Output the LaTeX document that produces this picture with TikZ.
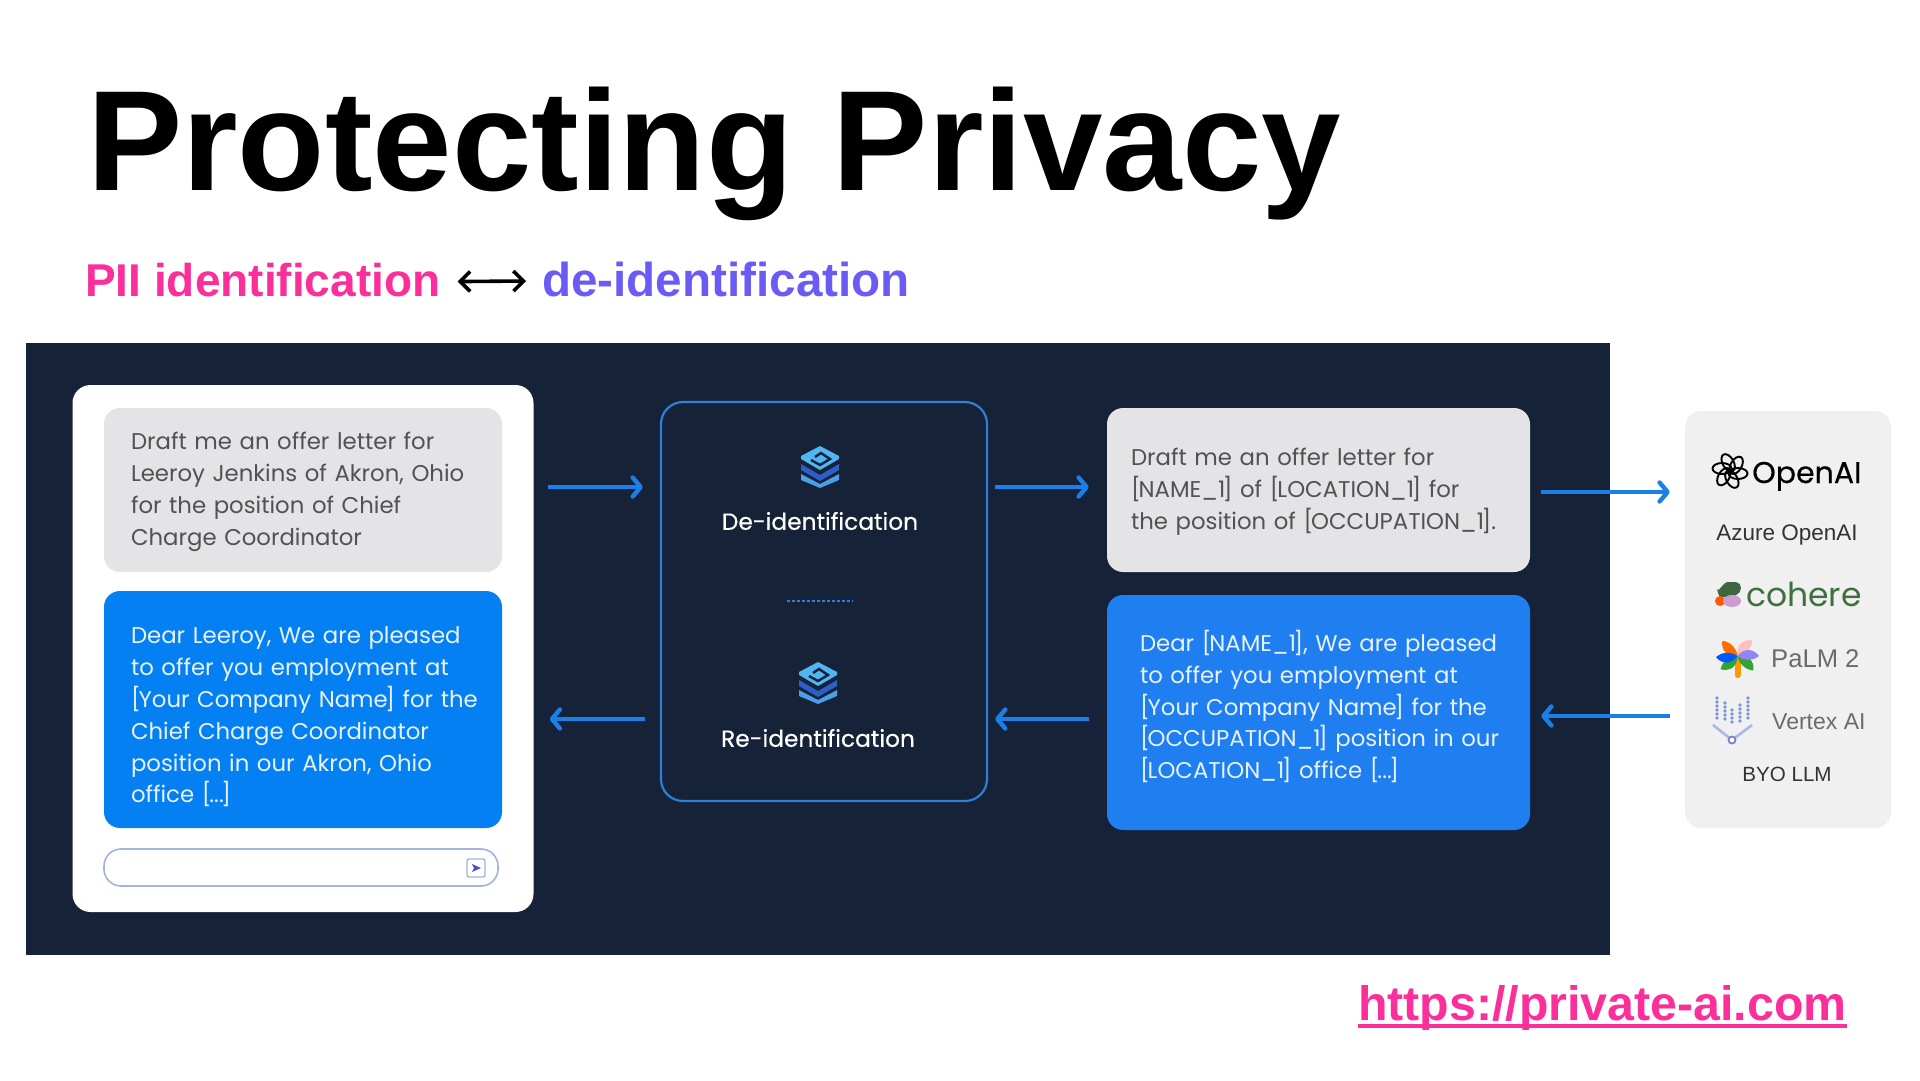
\documentclass[tikz,border=0pt]{standalone}
\usepackage{fontspec}
\setmainfont{Liberation Sans}
\newfontfamily\bubblefont{Poppins}
\newfontfamily\stagefont[FakeBold=0.35]{Poppins}
\usetikzlibrary{arrows.meta,calc,positioning}
\definecolor{panel}{HTML}{152238}
\definecolor{flow}{HTML}{1A7FE6}
\definecolor{chatblue}{HTML}{0480F2}
\definecolor{chatblueb}{HTML}{1F7FF0}
\definecolor{chatgray}{HTML}{E4E4E6}
\definecolor{hotpink}{HTML}{FB2F9A}
\definecolor{violet}{HTML}{6B5BF5}
\definecolor{framed}{HTML}{2E7FD8}
\definecolor{inputline}{HTML}{A3B3DE}
\definecolor{stacklow}{HTML}{4A9FE8}
\definecolor{stackmid}{HTML}{2D5FCB}
\definecolor{stacktop}{HTML}{52B4F0}
\definecolor{vertexdot}{HTML}{7E95D8}
\definecolor{vertexline}{HTML}{A9B8EE}
\newcommand{\fs}[2]{\fontsize{#1}{#2}\selectfont}
\newcommand{\lb}{{[}\kern-2pt}
\newcommand{\rb}{\kern-2.5pt{]}}
\tikzset{stackicon/.pic={
  \fill[fill=stacklow] (-19,7)--(0,17)--(19,7)--(19,13)--(0,21)--(-19,13)--cycle;
  \fill[fill=stackmid] (-19,-3)--(0,8)--(19,-3)--(19,3)--(0,14)--(-19,3)--cycle;
  \fill[fill=stacktop] (0,-21)--(19,-11)--(19,-8)--(0,3)--(-19,-8)--(-19,-11)--cycle;
  \draw[panel,line width=2.4pt] (-9,-7)--(0,-2)--(10,-8)--(1,-14)--(-5,-10);
}}
\begin{document}
\begin{tikzpicture}[x=1pt,y=-1pt,
  bubble/.style={rounded corners=16pt,align=left,inner ysep=0pt,font=\bubblefont\fs{22.8}{31.8}},
  query/.style={bubble,fill=chatgray,text=black!68},
  reply/.style={bubble,fill=chatblue,text=white!90!chatblue},
  nudge/.style={execute at begin node={\rule{0pt}{#1}}},
  stage/.style={text=white,font=\stagefont\fs{23.3}{28}},
  vendor/.style={inner sep=0pt,text=black!80,font=\fs{22.5}{26}},
  arr/.style={-{Straight Barb[length=8pt,width=19pt,round]},line width=4.4pt,flow}]
  \useasboundingbox (0,0) rectangle (1920,1080);
  \node[anchor=base west,inner sep=0pt,font=\bfseries\fs{142.8}{150}] (title) at (87,190) {Protecting Privacy};
  \node[anchor=base west,inner sep=0pt,text=hotpink,font=\bfseries\fs{46}{50}] (pii) at (85,296) {PII identification};
  \node[anchor=base west,inner sep=0pt,text=violet,font=\bfseries\fs{47.6}{50}] (deid) at (542,296) {de-identification};
  \draw[{Straight Barb[length=10pt,width=20pt]}-{Straight Barb[length=10pt,width=20pt]},line width=3.6pt] ([xshift=17pt,yshift=-2pt]pii.east) -- ([xshift=-16pt,yshift=-2pt]deid.west);

  \fill[panel] (26,343) rectangle (1610,955);
  \node[fill=white,rounded corners=18pt,minimum width=461pt,minimum height=527pt,inner sep=0pt] (card) at (303,648.5) {};
  \node[query,nudge=21pt,minimum height=164pt,text width=344pt,inner xsep=27pt] (askin) at (303,490) {Draft me an offer letter for\\Leeroy Jenkins of Akron, Ohio\\for the position of Chief\\Charge Coordinator};
  \node[reply,nudge=32pt,minimum height=237pt,text width=344pt,inner xsep=27pt] (answer) at (303,709.5) {Dear Leeroy, We are pleased\\to offer you employment at\\\mbox{\lb Your Company Name\rb{} for the}\\Chief Charge Coordinator\\position in our Akron, Ohio\\office \lb...\rb};
  \node[draw=inputline,line width=1.6pt,fill=white,rounded corners=17pt,minimum width=394pt,minimum height=37pt,inner sep=0pt] (input) at (301,867.5) {};
  \node[draw=inputline,line width=1.4pt,rounded corners=2pt,minimum size=18pt,inner sep=0pt] (send) at (476,868) {};
  \fill[violet!80!black] (472,864)--(481,868)--(472,872)--(474,868)--cycle;

  \node[draw=framed,line width=2.2pt,rounded corners=22pt,minimum width=326pt,minimum height=399pt,inner sep=0pt] (mid) at (824,601.5) {};
  \pic at (820,467) {stackicon};
  \node[stage] (deident) at (820,521) {De-identification};
  \draw[framed,line width=1.4pt,dash pattern=on 3pt off 2pt] (787,601) -- (853,601);
  \pic at (818,683) {stackicon};
  \node[stage] (reident) at (818,738) {Re-identification};

  \node[query,nudge=21pt,minimum height=164pt,text width=375pt,inner xsep=24pt] (masked) at (1318.5,490) {Draft me an offer letter for\\\lb NAME\_1\rb{} of \lb LOCATION\_1\rb{} for\\\mbox{the position of \lb OCCUPATION\_1\rb.}};
  \node[reply,fill=chatblueb,minimum height=235pt,text width=357pt,inner xsep=33pt] (maskout) at (1318.5,712.5) {\mbox{Dear \lb NAME\_1\rb, We are pleased}\\to offer you employment at\\\lb Your Company Name\rb{} for the\\\mbox{\lb OCCUPATION\_1\rb{} position in our}\\\lb LOCATION\_1\rb{} office \lb...\rb\rule[-16pt]{0pt}{1pt}};

  \node[fill=black!6,rounded corners=16pt,minimum width=206pt,minimum height=417pt,inner sep=0pt] (models) at (1788,619.5) {};
  \node[vendor,anchor=base west,font=\stagefont\fs{30}{34},text=black] (openai) at (1752,483) {OpenAI};
  \foreach \a in {0,60,...,300}
    \draw[black,line width=1.9pt,rotate around={\a:(1730,471)}] (1738,473.5) ellipse (9.5pt and 5.5pt);
  \node[vendor] (azure) at (1787,535) {Azure OpenAI};
  \node[vendor,anchor=base west,text=green!25!black!75,font=\bubblefont\fs{33}{36}] (cohere) at (1746,606) {cohere};
  \fill[green!20!black!75] (1717,589) to[out=-80,in=180] (1728,582) -- (1736,582) to[out=0,in=90] (1741,588) to[out=-90,in=0] (1726,597) -- (1721,597) to[out=180,in=90] cycle;
  \fill[orange!70!red] (1720,601) circle (5pt);
  \fill[violet!35!pink] (1732,601) ellipse (9pt and 6pt);
  \node[vendor,anchor=base west,text=black!58,font=\fs{25.6}{30}] (palm) at (1771,667) {PaLM 2};
  \draw[orange!80!yellow,line width=6pt,line cap=round] (1737.5,656) -- (1737.5,675);
  \foreach \a/\c in {218/green!55!black!80,318/green!55!black!80,135/orange!85!red,47/pink,183/blue!65!cyan,0/violet!75}
    \fill[\c,rotate around={\a:(1737.5,656)}] (1737.5,656) .. controls (1744,648) and (1753,648) .. (1759,656) .. controls (1753,661) and (1744,661) .. (1737.5,656) -- cycle;
  \node[vendor,anchor=base west,text=black!58,font=\fs{23}{26}] (vertex) at (1772,729) {Vertex AI};
  \foreach \x/\ytop/\n in {1717/698/6,1725/703/5,1732/710/4,1740/705/5,1748/698/6}
    \foreach \k in {1,...,\n}
      \fill[vertexdot] (\x,\ytop+\k*4-4) circle (1.8pt);
  \draw[vertexline,line width=2.6pt] (1713,725) -- (1732,740) -- (1752,725);
  \draw[blue!45!gray!70,line width=1.8pt,fill=white] (1732,740) circle (3.5pt);
  \node[vendor,font=\fs{20.6}{26}] (byo) at (1787,774) {BYO LLM};

  \coordinate (up) at (0,487); \coordinate (dn) at (0,719);
  \coordinate (upr) at (0,492); \coordinate (dnr) at (0,716);
  \draw[arr,shorten <=14pt,shorten >=17pt] (card.east |- up) -- (mid.west |- up);
  \draw[arr,shorten <=7pt,shorten >=18pt] (mid.east |- up) -- (masked.west |- up);
  \draw[arr,shorten <=11pt,shorten >=15pt] (masked.east |- upr) -- (models.west |- upr);
  \draw[arr,shorten <=15pt,shorten >=11pt] (models.west |- dnr) -- (maskout.east |- dnr);
  \draw[arr,shorten <=18pt,shorten >=7pt] (maskout.west |- dn) -- (mid.east |- dn);
  \draw[arr,shorten <=15pt,shorten >=16pt] (mid.west |- dn) -- (card.east |- dn);

  \node[anchor=base west,inner sep=0pt,text=hotpink,font=\bfseries\fs{48.3}{50}] (url) at (1358,1020) {https://private-ai.com};
  \draw[hotpink,line width=3.6pt] ([yshift=-6pt]url.base west) -- ([yshift=-6pt]url.base east);
\end{tikzpicture}
\end{document}
